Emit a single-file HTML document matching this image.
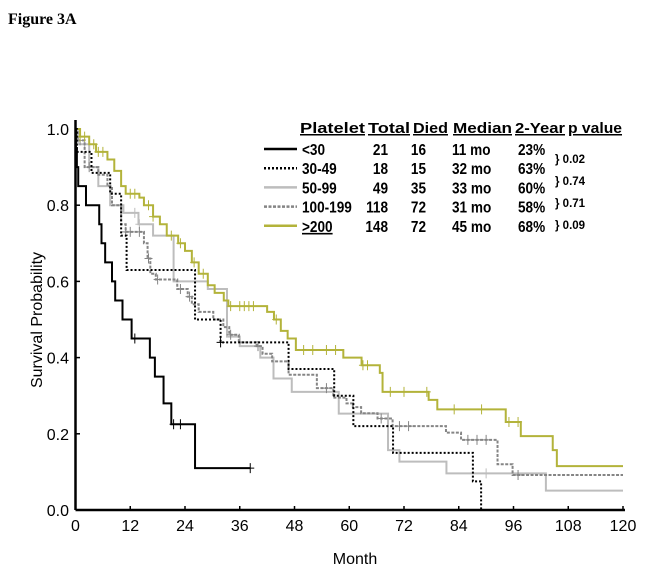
<!DOCTYPE html>
<html><head><meta charset="utf-8"><style>
body{margin:0;background:#fff;width:646px;height:571px;overflow:hidden}
svg{display:block}
text{font-family:"Liberation Sans",Arial,sans-serif}
</style></head><body>
<svg id="chart" width="646" height="571">
<text x="8" y="24" style="font-family:'Liberation Serif',serif" font-weight="bold" font-size="16">Figure 3A</text>
<g id="axes"></g><g id="series"></g><g id="legend"></g>
</svg>
<script>
const xTicks=[0,12,24,36,48,60,72,84,96,108,120];
const yTicks=[0,0.2,0.4,0.6,0.8,1.0];
const sLt30T=[0.1,0.3,0.6,2.3,5.2,5.7,6.5,8,8.7,10.3,12.3,16.3,17.4,19.3,21,26.2];
const sLt30V=[0.95,0.9,0.85,0.8,0.75,0.7,0.65,0.6,0.55,0.5,0.45,0.4,0.35,0.28,0.225,0.11];
const sLt30End=38.3; const sLt30C=[13,21.5,23,38.3];
const s30T=[0.3,3.5,7.6,10,11.2,26.2,31.8,46.7,56.7,60.9,69.6,87.1,88.9];
const s30V=[0.94,0.885,0.83,0.72,0.63,0.5,0.44,0.37,0.30,0.22,0.15,0.075,0];
const s30End=88.9; const s30C=[31.8];
const s50T=[0.5,3,5,7.6,10.5,13.8,17,21.5,29,33.2,36,40.5,43.4,47.4,57.7,68.5,71,81.3,103.1];
const s50V=[0.96,0.9,0.85,0.8,0.78,0.75,0.72,0.6,0.58,0.455,0.43,0.4,0.345,0.31,0.253,0.157,0.127,0.096,0.051];
const s50End=120; const s50C=[2,13,14,90];
const s100T=[0.5,2,5,7,8,10,11,15,15.8,16.4,17.6,22.3,24.6,25.5,27,30.2,32.4,33.7,35.8,39.7,41,43.1,46.7,52.9,56.5,59.4,60.8,62.6,66.2,69.5,81.2,84.5,92.5,95.8];
const s100V=[0.97,0.9,0.88,0.85,0.8,0.75,0.73,0.70,0.66,0.62,0.605,0.58,0.56,0.54,0.52,0.5,0.48,0.46,0.44,0.43,0.41,0.39,0.355,0.32,0.295,0.28,0.27,0.254,0.24,0.22,0.203,0.184,0.12,0.092];
const s100End=120; const s100C=[1,3,11,12,14,16,18,23,25,34,40,55,67,71,73,86,88,90,97];
const s200T=[1,3,4.5,7,8.5,10,11,14,15,17,18.5,20,22.5,24,25.5,27,29,30.5,32.5,33.5,42,43.5,45,46.5,48.3,58.7,62.7,66.7,67.3,77.4,79.3,94.3,97.6,104.6,105.5];
const s200V=[0.98,0.96,0.94,0.92,0.89,0.85,0.83,0.82,0.8,0.77,0.75,0.72,0.70,0.68,0.65,0.62,0.59,0.57,0.55,0.535,0.52,0.50,0.47,0.45,0.42,0.40,0.38,0.36,0.31,0.289,0.264,0.231,0.194,0.157,0.115];
const s200End=120; const s200C=[1,2,4,5,6,12,13,16,17,21,23,26,28,34,36,37,38,39,44,50,52,55,57,63,64,69,72,77,83,89,95,97];
const NS="http://www.w3.org/2000/svg";
const X=m=>75.5+m*(623-75.5)/120, Y=s=>510-s*381;
function mk(t,a,p){const e=document.createElementNS(NS,t);for(const k in a)e.setAttribute(k,a[k]);p.appendChild(e);return e;}
const ax=document.getElementById('axes');
let l=mk('line',{x1:75.5,y1:510,x2:625,y2:510,stroke:'#000','stroke-width':2.5},ax);


l=mk('line',{x1:75.5,y1:120,x2:75.5,y2:510,stroke:'#000','stroke-width':2.5},ax);


xTicks.forEach(v=>{mk('line',{x1:X(v),y1:510,x2:X(v),y2:506,stroke:'#000','stroke-width':1.5},ax);
 const t=mk('text',{x:X(v),y:531,'font-size':16,'text-anchor':'middle'},ax);t.textContent=v;
 
 });
yTicks.forEach(v=>{mk('line',{x1:75.5,y1:Y(v),x2:80,y2:Y(v),stroke:'#000','stroke-width':1.5},ax);
 const t=mk('text',{x:69,y:Y(v)+6,'font-size':16,'text-anchor':'end'},ax);t.textContent=v.toFixed(1);
 
 });
let t=mk('text',{x:355,y:564,'font-size':16,'text-anchor':'middle'},ax);t.textContent='Month';


t=mk('text',{x:0,y:0,'font-size':16,'text-anchor':'middle',transform:'translate(42,320) rotate(-90)'},ax);t.textContent='Survival Probability';


const sg=document.getElementById('series');
function val(T,V,m){let s=1;for(let i=0;i<T.length;i++)if(T[i]<=m)s=V[i];return s;}
function draw(name,T,V,end,C,st){
 let d='M'+X(0)+','+Y(1);
 for(let i=0;i<T.length;i++){d+='H'+X(T[i])+'V'+Y(V[i]);}
 d+='H'+X(end);
 const p=mk('path',{d:d,fill:'none',stroke:st.c,'stroke-width':st.w,'stroke-dasharray':st.da||'none'},sg);
 
 
 C.forEach(m=>{const y=Y(val(T,V,m)),x=X(m);
  const c=mk('path',{d:`M${x-4},${y}H${x+4}M${x},${y-5}V${y+5}`,stroke:st.c,'stroke-width':1},sg);
  
  });
}
const stl={lt30:{c:'#000',w:2},s30:{c:'#000',w:2,da:'2,2'},s50:{c:'#bdbdbd',w:2},s100:{c:'#858585',w:2,da:'3,1.5'},s200:{c:'#b3b33a',w:2}};
draw('platelet-50-99',s50T,s50V,s50End,s50C,stl.s50);
draw('platelet-100-199',s100T,s100V,s100End,s100C,stl.s100);
draw('platelet-200-plus',s200T,s200V,s200End,s200C,stl.s200);
draw('platelet-30-49',s30T,s30V,s30End,s30C,stl.s30);
draw('platelet-lt30',sLt30T,sLt30V,sLt30End,sLt30C,stl.lt30);
// legend
const lg=document.getElementById('legend');
const heads=[['Platelet',300,65],['Total',368,42],['Died',413,35],['Median',453,59],['2-Year',515,50],['p value',568,54]];
heads.forEach(h=>{const e=mk('text',{x:h[1],y:133,'font-size':15,'font-weight':'bold','text-decoration':'underline',textLength:h[2],lengthAdjust:'spacingAndGlyphs'},lg);e.textContent=h[0];
 
 });
const rows=[['<30','21','16','11 mo','23%','lt30'],['30-49','18','15','32 mo','63%','s30'],['50-99','49','35','33 mo','60%','s50'],['100-199','118','72','31 mo','58%','s100'],['≥200','148','72','45 mo','68%','s200']];
rows.forEach((r,i)=>{const y=155+i*19.2,st=stl[r[5]];
 const ln=mk('line',{x1:264,y1:y-6,x2:297,y2:y-6,stroke:st.c,'stroke-width':2.5,'stroke-dasharray':st.da||'none'},lg);
 
 
 [[r[0],302,'start'],[r[1],388,'end'],[r[2],426,'end'],[r[3],452,'start'],[r[4],518,'start']].forEach(c=>{
  const e=mk('text',{transform:`translate(${c[1]},${y}) scale(0.85,1)`,'font-size':16,'font-weight':'bold','text-anchor':c[2]},lg);e.textContent=c[0];
  if(c[0]==='≥200'){e.textContent='>200';e.setAttribute('text-decoration','underline');}
  
  });});
['0.02','0.74','0.71','0.09'].forEach((p,i)=>{const e=mk('text',{x:555,y:163+i*22,'font-size':11.5,'font-weight':'bold'},lg);e.textContent='} '+p;
 
 });
</script>
</body></html>
